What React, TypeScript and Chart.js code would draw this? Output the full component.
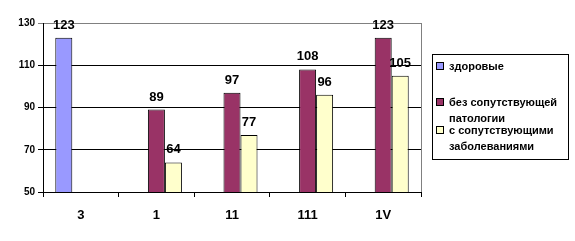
import React, { useEffect, useRef } from "react";
import { Chart, registerables } from "chart.js";

Chart.register(...registerables);

const categories = ["3", "1", "11", "111", "1V"];
const healthy = [123, null, null, null, null];
const noPathology = [null, 89, 97, 108, 123];
const withDiseases = [null, 64, 77, 96, 105];
const yTicks = [50, 70, 90, 110, 130];

const legendItems = [
  { lines: ["здоровые"], color: "#9999FF" },
  { lines: ["без сопутствующей", "патологии"], color: "#993366" },
  { lines: ["с сопутствующими", "заболеваниями"], color: "#FFFFCC" },
];

const FONT = '"Liberation Sans", Arial, sans-serif';

const valueLabels = {
  id: "valueLabels",
  afterDatasetsDraw(chart: any) {
    const ctx = chart.ctx;
    ctx.save();
    ctx.font = `bold 13px ${FONT}`;
    ctx.fillStyle = "#000";
    ctx.textAlign = "center";
    ctx.textBaseline = "alphabetic";
    chart.data.datasets.forEach((ds: any, i: number) => {
      const meta = chart.getDatasetMeta(i);
      meta.data.forEach((el: any, j: number) => {
        const v = ds.data[j];
        if (v == null) return;
        ctx.fillText(String(v), el.x, el.y - 9);
      });
    });
    ctx.restore();
  },
};

const frame = {
  id: "frame",
  beforeDatasetsDraw(chart: any) {
    const { ctx, chartArea } = chart;
    ctx.save();
    ctx.strokeStyle = "#808080";
    ctx.lineWidth = 1;
    ctx.beginPath();
    ctx.moveTo(Math.round(chartArea.right) + 0.5, chartArea.top);
    ctx.lineTo(Math.round(chartArea.right) + 0.5, chartArea.bottom);
    ctx.stroke();
    ctx.restore();
  },
};

export default function App() {
  const ref = useRef<HTMLCanvasElement>(null);
  useEffect(() => {
    const chart = new Chart(ref.current!, {
      type: "bar",
      data: {
        labels: categories,
        datasets: [
          { label: "здоровые", data: healthy, backgroundColor: "#9999FF" },
          { label: "без сопутствующей патологии", data: noPathology, backgroundColor: "#993366" },
          { label: "с сопутствующими заболеваниями", data: withDiseases, backgroundColor: "#FFFFCC" },
        ].map((d) => ({
          ...d,
          borderColor: "#000",
          borderWidth: 1,
          borderSkipped: false,
          categoryPercentage: 0.675,
          barPercentage: 1,
        })),
      },
      options: {
        responsive: false,
        animation: false,
        layout: { padding: { top: 23, right: 154, left: 0, bottom: 0 } },
        plugins: { legend: { display: false }, tooltip: { enabled: false } },
        scales: {
          x: {
            offset: true,
            grid: {
              offset: true,
              drawOnChartArea: false,
              drawTicks: true,
              tickLength: 5,
              color: "#000",
            },
            border: { color: "#000" },
            ticks: {
              color: "#000",
              font: { family: FONT, size: 13, weight: "bold" },
              padding: 11,
            },
            afterFit(scale: any) {
              scale.height = 49;
            },
          },
          y: {
            min: 50,
            max: 130,
            afterBuildTicks(scale: any) {
              scale.ticks = yTicks.map((v) => ({ value: v }));
            },
            grid: {
              color: (c: any) => (c.tick && c.tick.value === 130 ? "#808080" : "#000"),
              tickLength: 5,
            },
            border: { color: "#000" },
            ticks: {
              color: "#000",
              font: { family: FONT, size: 10, weight: "bold" },
              padding: 3,
            },
            afterFit(scale: any) {
              scale.width = 43;
            },
          },
        },
      },
      plugins: [valueLabels, frame],
    });
    return () => chart.destroy();
  }, []);

  return (
    <div style={{ position: "fixed", left: 0, top: 0, width: 575, height: 241, background: "#fff" }}>
      <canvas ref={ref} width={575} height={241} style={{ display: "block" }} />
      <div
        style={{
          position: "absolute",
          left: 432,
          top: 54,
          width: 135,
          height: 104,
          border: "1px solid #000",
          fontFamily: FONT,
          fontWeight: "bold",
          fontSize: 11,
          color: "#000",
        }}
      >
        {legendItems.map((it, i) => (
          <div
            key={i}
            style={{ position: "absolute", left: 3, top: [3, 39, 67][i], lineHeight: "16px" }}
          >
            {it.lines.map((ln, k) => (
              <div key={k} style={{ display: "flex", alignItems: "center", whiteSpace: "nowrap" }}>
                <span
                  style={{
                    display: "inline-block",
                    width: 6,
                    height: 6,
                    marginRight: 5,
                    border: "1px solid #000",
                    background: k === 0 ? it.color : "transparent",
                    borderColor: k === 0 ? "#000" : "transparent",
                  }}
                />
                {ln}
              </div>
            ))}
          </div>
        ))}
      </div>
    </div>
  );
}
